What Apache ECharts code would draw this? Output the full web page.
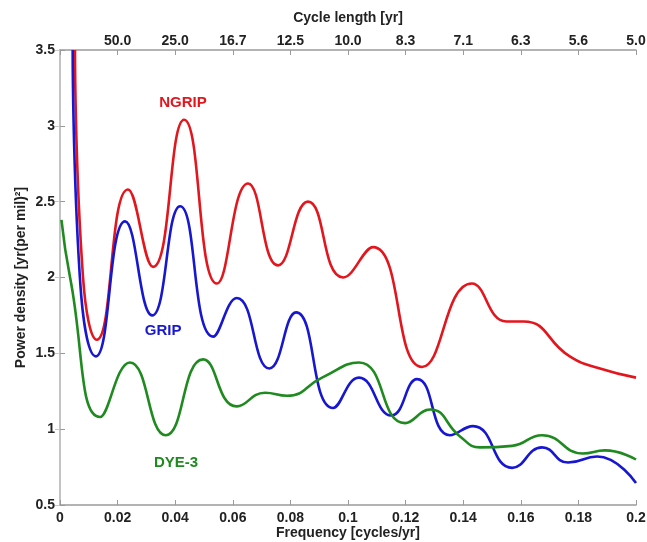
<!DOCTYPE html>
<html>
<head>
<meta charset="utf-8">
<script src="https://cdn.jsdelivr.net/npm/echarts@6/dist/echarts.min.js"></script>
<style>
  html, body { margin: 0; padding: 0; background: #fff; }
  #chart { width: 647px; height: 542px; }
</style>
</head>
<body>
<div id="chart"></div>
<script>
// frequency [cycles/yr] and power density
const ngripFreq = [0.0052, 0.0080, 0.0128, 0.0236, 0.0323, 0.0431, 0.0545, 0.0653, 0.0757, 0.0861, 0.0983, 0.1087, 0.1257, 0.143, 0.155, 0.161, 0.177, 0.1875, 0.2]
const ngripPower = [3.5, 2.0, 1.59, 2.58, 2.07, 3.04, 1.96, 2.62, 2.08, 2.50, 2.00, 2.20, 1.41, 1.96, 1.71, 1.71, 1.48, 1.40, 1.34]

const gripFreq = [0.0044, 0.0069, 0.0125, 0.0226, 0.032, 0.0417, 0.0532, 0.0614, 0.0727, 0.082, 0.0948, 0.1038, 0.115, 0.124, 0.1354, 0.1434, 0.157, 0.1674, 0.1764, 0.1865, 0.2]
const gripPower = [3.5, 2.0, 1.48, 2.37, 1.75, 2.47, 1.61, 1.865, 1.40, 1.77, 1.14, 1.34, 1.09, 1.33, 0.96, 1.02, 0.745, 0.88, 0.78, 0.82, 0.645]

const dyeFreq = [0.0005, 0.0035, 0.0139, 0.0243, 0.0367, 0.0497, 0.0614, 0.0712, 0.0788, 0.091, 0.1038, 0.1198, 0.1285, 0.139, 0.1458, 0.157, 0.1674, 0.1816, 0.1892, 0.2]
const dyePower = [2.38, 2.0, 1.08, 1.44, 0.96, 1.46, 1.15, 1.24, 1.22, 1.34, 1.44, 1.04, 1.13, 0.95, 0.88, 0.89, 0.96, 0.84, 0.86, 0.80]

// top axis: cycle length = 1 / frequency
const cycleLabels = ['', '50.0', '25.0', '16.7', '12.5', '10.0', '8.3', '7.1', '6.3', '5.6', '5.0']

// where the curve names sit (data coords)
const labelPos = {
  NGRIP: [0.0427, 3.15],
  GRIP: [0.0358, 1.65],
  'DYE-3': [0.0403, 0.78],
}

const zip = (xs, ys) => xs.map((x, i) => [x, ys[i]])

const axisGrey = '#9a9a9a'
const font = 'Liberation Sans, Arial, sans-serif'
const tickFont = { fontFamily: font, fontWeight: 'bold', fontSize: 14, color: '#222' }
const nameFont = { fontFamily: font, fontWeight: 'bold', fontSize: 14, color: '#222' }

const makeSeries = (name, data, color) => ({
  name: name,
  type: 'line',
  data: data,
  smooth: 0.5,
  showSymbol: false,
  clip: true,
  lineStyle: { color: color, width: 2.6 },
  markPoint: {
    symbol: 'circle',
    symbolSize: 1,
    itemStyle: { color: 'rgba(0,0,0,0)' },
    label: {
      show: true,
      position: 'inside',
      formatter: name,
      color: color,
      fontFamily: font,
      fontWeight: 'bold',
      fontSize: 15,
    },
    data: [{ coord: labelPos[name] }],
  },
})

const chart = echarts.init(document.getElementById('chart'))

chart.setOption({
  animation: false,
  grid: { left: 60, right: 11, top: 50, bottom: 37, outerBoundsMode: 'none' },
  xAxis: [
    {
      type: 'value',
      min: 0,
      max: 0.2,
      interval: 0.02,
      name: 'Frequency [cycles/yr]',
      nameLocation: 'middle',
      nameGap: 21,
      nameMoveOverlap: false,
      nameTextStyle: nameFont,
      axisLine: { lineStyle: { color: axisGrey, width: 1.5 } },
      axisTick: { inside: true, length: 5, lineStyle: { color: axisGrey } },
      axisLabel: {
        ...tickFont,
        margin: 6,
        formatter: (v) => (v === 0 ? '0' : String(+v.toFixed(2))),
      },
      splitLine: { show: false },
    },
    {
      type: 'value',
      position: 'top',
      min: 0,
      max: 0.2,
      interval: 0.02,
      name: 'Cycle length [yr]',
      nameLocation: 'middle',
      nameGap: 25,
      nameMoveOverlap: false,
      nameTextStyle: nameFont,
      axisLine: { lineStyle: { color: axisGrey, width: 1.5 } },
      axisTick: { inside: true, length: 5, lineStyle: { color: axisGrey } },
      axisLabel: {
        ...tickFont,
        margin: 2,
        formatter: (v) => cycleLabels[Math.round(v / 0.02)] || '',
      },
      splitLine: { show: false },
    },
  ],
  yAxis: [
    {
      type: 'value',
      min: 0.5,
      max: 3.5,
      interval: 0.5,
      name: 'Power density [yr(per mil)²]',
      nameLocation: 'middle',
      nameGap: 32,
      nameMoveOverlap: false,
      nameTextStyle: nameFont,
      axisLine: { show: true, lineStyle: { color: axisGrey, width: 1.5 } },
      axisTick: { show: true, inside: true, length: 5, lineStyle: { color: axisGrey } },
      axisLabel: { ...tickFont, margin: 5 },
      splitLine: { show: false },
    },
    {
      type: 'value',
      position: 'right',
      min: 0.5,
      max: 3.5,
      interval: 0.5,
      axisLine: { show: true, lineStyle: { color: '#c8c8c8', width: 1.5 } },
      axisTick: { show: true, inside: true, length: 5, lineStyle: { color: '#c8c8c8' } },
      axisLabel: { show: false },
      splitLine: { show: false },
    },
  ],
  series: [
    makeSeries('NGRIP', zip(ngripFreq, ngripPower), '#e3151d'),
    makeSeries('GRIP', zip(gripFreq, gripPower), '#1717d2'),
    makeSeries('DYE-3', zip(dyeFreq, dyePower), '#1f8a1f'),
  ],
})
</script>
</body>
</html>
